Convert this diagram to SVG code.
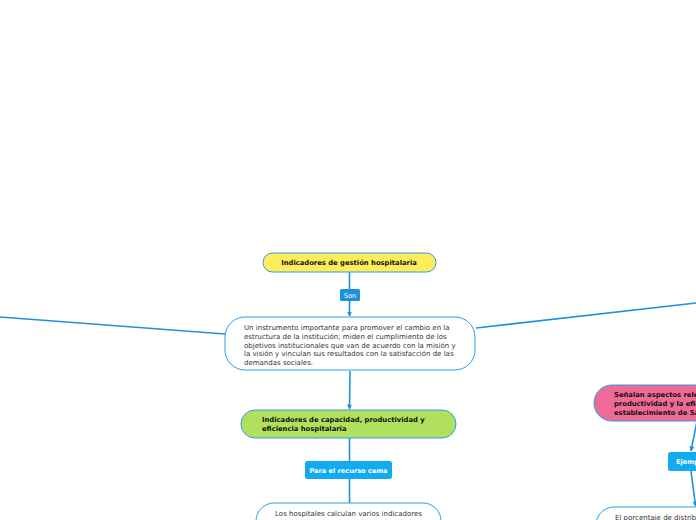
<svg xmlns="http://www.w3.org/2000/svg" width="696" height="520" viewBox="0 0 696 520">
<defs>
<style>
.t{font-family:"DejaVu Sans","Verdana",sans-serif;font-size:7px;fill:#333}
.b{font-family:"DejaVu Sans","Verdana",sans-serif;font-size:6.8px;font-weight:bold;fill:#111}
.w{font-family:"DejaVu Sans","Verdana",sans-serif;font-size:6.6px;font-weight:bold;fill:#fff}
.n{stroke:#2a9ee6;stroke-width:1}
.c{fill:none;stroke:#1e90e0;stroke-width:1.6}
</style>
<marker id="ah" viewBox="0 0 10 10" refX="9" refY="5" markerWidth="5" markerHeight="5" orient="auto" markerUnits="userSpaceOnUse">
<path d="M0,0 L10,5 L0,10 z" fill="#1e90e0"/>
</marker>
</defs>
<rect width="696" height="520" fill="#fff"/>
<g id="connectors">
<path class="c" d="M349.5,272 V289"/>
<path class="c" d="M349.5,301 V316" marker-end="url(#ah)"/>
<path class="c" d="M225,334 L0,317"/>
<path class="c" d="M476,328 L696,303"/>
<path class="c" d="M350,371 L349.5,409" marker-end="url(#ah)"/>
<path class="c" d="M349.5,438 V461"/>
<path class="c" d="M349.5,479 V503"/>
<path class="c" d="M697,421 L691,451" marker-end="url(#ah)"/>
<path class="c" d="M691,471 L695.5,506" marker-end="url(#ah)"/>
</g>
<g id="n1">
<rect class="n" x="263" y="253" width="173" height="19" rx="9.5" fill="#ffec5c"/>
<text class="b" x="349" y="265" text-anchor="middle">Indicadores de gestión hospitalaria</text>
</g>
<g id="l1">
<rect x="340" y="289" width="20" height="12" rx="1.5" fill="#1e90e0"/>
<text class="w" x="350" y="297.5" text-anchor="middle" style="font-weight:normal">Son</text>
</g>
<g id="n2">
<rect class="n" x="225" y="317" width="250" height="53" rx="20" fill="#fff"/>
<text class="t" x="244" y="330">Un instrumento importante para promover el cambio en la</text>
<text class="t" x="244" y="339">estructura de la institución; miden el cumplimiento de los</text>
<text class="t" x="244" y="347.5">objetivos institucionales que van de acuerdo con la misión y</text>
<text class="t" x="244" y="356">la visión y vinculan sus resultados con la satisfacción de las</text>
<text class="t" x="244" y="365">demandas sociales.</text>
</g>
<g id="n3">
<rect class="n" x="241" y="410" width="215" height="28" rx="14" fill="#b0e05e"/>
<text class="b" x="262" y="422">Indicadores de capacidad, productividad y</text>
<text class="b" x="262" y="431">eficiencia hospitalaria</text>
</g>
<g id="l2">
<rect x="305" y="461" width="87" height="18" rx="2.5" fill="#12aaf0"/>
<text class="w" x="348.5" y="472.5" text-anchor="middle">Para el recurso cama</text>
</g>
<g id="n4">
<rect class="n" x="256" y="503" width="185" height="50" rx="18" fill="#fff"/>
<text class="t" x="348.5" y="515.5" text-anchor="middle">Los hospitales calculan varios indicadores</text>
<text class="t" x="348.5" y="524.5" text-anchor="middle">relacionados con la productividad de las</text>
</g>
<g id="n5">
<rect class="n" x="594" y="385" width="140" height="36" rx="18" fill="#f06a98"/>
<text class="b" x="614" y="397">Señalan aspectos relevantes de la</text>
<text class="b" x="614" y="406">productividad y la eficiencia del</text>
<text class="b" x="614" y="415">establecimiento de Salud</text>
</g>
<g id="l3">
<rect x="668" y="452" width="50" height="19" rx="2.5" fill="#12aaf0"/>
<text class="w" x="676" y="464">Ejemplo</text>
</g>
<g id="n6">
<rect class="n" x="596" y="507" width="160" height="40" rx="18" fill="#fff"/>
<text class="t" x="615" y="519.5">El porcentaje de distribución</text>
</g>
</svg>
